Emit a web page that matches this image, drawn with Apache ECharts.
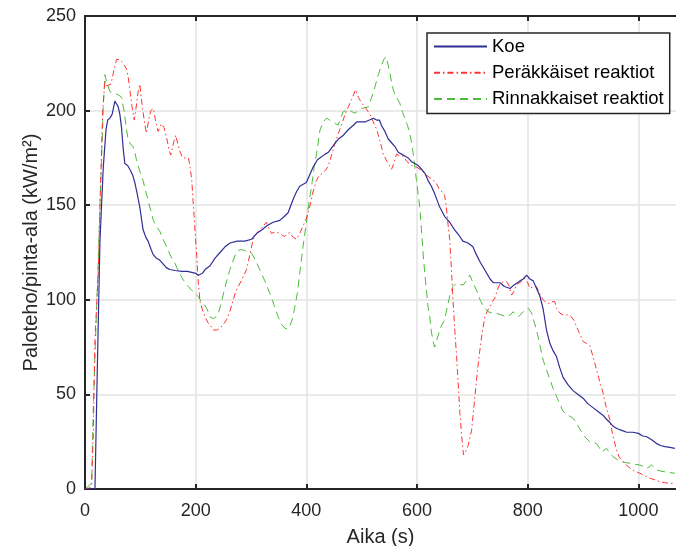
<!DOCTYPE html>
<html>
<head>
<meta charset="utf-8">
<script src="https://cdn.jsdelivr.net/npm/echarts@6/dist/echarts.min.js"></script>
<style>
html,body{margin:0;padding:0;background:#fff;}
#c{width:676px;height:546px;}
</style>
</head>
<body>
<div id="c"></div>
<script>
var seriesNames = ['Koe', 'Peräkkäiset reaktiot', 'Rinnakkaiset reaktiot'];
var xTicks = [0, 200, 400, 600, 800, 1000];
var yTicks = [0, 50, 100, 150, 200, 250];

var koe = [[0,0],[10,0],[18,0],[22,60],[27,131],[33,170],[38,190],[41,195],[45,196],[49,198],[54,205],[57,204],[60,202],[63,198],[66,191],[69,180],[72,172],[77,171],[81,169],[86,166],[90,162],[95,155],[99,149],[105,137],[110,133],[114,131],[119,127],[123,124],[129,122],[135,121],[141,119],[147,117],[153,116],[163,115.5],[175,115],[185,115],[193,114.5],[200,114],[205,113],[212,114],[217,116],[226,118],[235,122],[244,125],[253,128],[262,130],[275,131],[289,131],[301,132],[310,135],[320,137],[328,139],[340,141],[352,142],[360,144],[367,146],[376,153],[382,157],[388,160],[400,162],[406,166],[412,170],[420,174],[434,177],[440,178],[450,182],[458,185],[467,187],[476,190],[484,192],[491,194],[500,194],[506,194],[514,195],[521,196],[527,195],[532,195],[536,192],[542,189],[548,185],[554,183],[560,181],[566,178],[572,177],[578,176],[584,175],[590,173],[596,172],[602,171],[608,169],[614,167],[620,163],[626,160],[632,156],[641,149],[650,144],[659,141],[668,137],[676,134],[683,131],[692,130],[701,128],[707,124],[714,120],[722,116],[732,111],[738,109],[744,109],[750,109],[758,107],[768,106],[776,108],[786,110],[792,111],[798,113],[804,111],[810,110],[816,106],[822,102],[828,95],[834,84],[840,77],[846,73],[852,70],[858,64],[864,59],[873,55],[882,52],[891,50],[900,48],[909,45],[918,43],[927,41],[936,39],[942,37],[949,35],[955,33],[961,32],[970,31],[979,30],[990,30],[1000,29.4],[1008,28],[1015,27.6],[1024,26],[1033,24],[1040,23],[1048,22.4],[1057,22],[1066,21.5]];

var perakkaiset = [[0,0],[8,0.5],[12,2],[15,30],[18,79],[24,114],[28,160],[32,200],[36,216],[39,213],[42,213.5],[47,214],[52,221],[57,227],[62,227],[66,226],[71,224],[75,222],[78,218],[81,211],[85,202],[89,195],[93,203],[96,210],[99,214],[104,201],[108,193],[111,188],[115,195],[119,200],[123.5,201],[128,194],[132,189],[138,193],[143,191],[148,185],[152,179],[155,176.5],[160,183],[164,187],[168,182],[172,178],[176.5,175],[182,175],[187,175],[190,170],[193,163],[198,140],[202,123],[205,108],[208,99],[213,94],[217,91],[222,88],[226,86.5],[232,84],[238,84],[244,85],[250,87],[256,89.5],[262,94],[268,100],[272,104],[277,107],[284,111],[292,116],[298,124],[304,132],[310,135],[316,137],[322,139],[328,141],[332,138],[337,135],[344,136],[352,135],[357,134],[361,133.5],[366,135],[370,135.5],[376,133],[382,132],[388,135],[394,139],[400,143],[406,149],[412,157],[418,163],[424,166],[430,167],[436,169],[440,171],[446,177],[452,183],[458,188],[464,193],[470,198],[476,202],[482,206],[489,211],[494,207],[500,204],[508,201],[515,198],[521,194],[527,190],[533,184],[539,177],[546,173],[554,169],[558,172],[563,177],[569,176],[575,176],[582,173],[590,171],[600,170],[608,168.5],[616,166],[626,164],[634,162],[641,158],[646,157],[650,155],[653,149],[656,140],[659,132],[662,117],[665,100],[668,85],[671.5,70],[675,53],[677.5,40],[681,27],[684,18],[688,20],[692.5,23],[698.6,31],[701,38],[704.6,49],[709,62],[713.6,73.5],[718,83],[722.6,91],[727,94],[731.7,96.5],[736,99],[740.7,101],[745,105],[750,108.7],[756,109.5],[762,109.6],[767,107],[771,102.5],[776,105],[780,108],[788,109.5],[795,111.4],[800,109],[804,106],[810,107],[816,107],[822,103],[828,100],[833,98.5],[837,98],[843,99],[849,99],[852,95.5],[858,93],[864,92],[872,92],[879,91],[884,89],[888,86],[894,82],[900,78],[906,77],[912,76],[918,70],[924.5,63],[930,57],[936,51],[942,43],[948.5,36.5],[954,28],[960.6,20.6],[965,17],[970,15.3],[977,13],[985,11],[993,9.5],[1003,8.3],[1012,7],[1021,5.7],[1030,4.8],[1039,3.9],[1048,3.3],[1057,3],[1066,3]];

var rinnakkaiset = [[0,0],[3,1],[8,2],[12,3],[15,43],[18,70],[21,96],[24,122],[27,149],[30,175],[33,202],[36,219],[39,215],[42,212.6],[45,210],[48,209],[52,209],[57,208.7],[62,208],[66,207],[71,199],[75,190],[78,184.5],[83,182],[87,181],[90,178],[93,174],[99,168],[105,163],[110,157],[114,152.7],[119,147],[123.5,142],[129,139],[135.5,136],[141,132],[147.6,128],[155,123],[162.6,119.3],[169,115],[174.7,112],[181,109],[186.7,107],[193,105],[198.7,103.4],[205,101.6],[210,99],[214,98],[220,95.5],[226,91],[232,90],[237,91],[241,93],[246,98],[250,103],[256,110],[262,116],[268,121],[274,125.4],[280,126.5],[286,126.3],[294,125.5],[301,124.6],[308,121],[316,115.8],[325,110],[334,103.4],[342,97],[349,91],[355,87],[361,85],[366,84.5],[370,86],[375,90],[379,96],[384,104],[388,114],[394,128],[400.5,142],[405,152],[409.5,160],[414,170],[418.6,177.4],[424.6,189.7],[430.5,194],[436.6,196],[442,195],[448.6,194],[453,193],[457.6,192.4],[462,196],[466.7,199.4],[470,200],[475.7,200.3],[482,199.5],[487.8,198.6],[494,200],[500,201.2],[506,201.5],[512,202],[518,207],[524,212.6],[530,219],[536,224],[540,227],[544,228.5],[548,224],[551,219.7],[554,215],[557,211],[563,207],[569,203.8],[574,199],[578,196],[583,192],[587,188],[590,183],[593,177.4],[596,170],[599,163],[602,156],[605,149],[608,137],[611,124.6],[614,114],[617,105.2],[620,96],[623,91],[626,83],[629,78],[632,75],[636,79],[641,84],[645,87],[650,89.3],[653,94],[656,98],[660,103],[665,107],[670,108.5],[674.5,108.7],[679,108],[683.5,107.8],[689,110],[695.6,113],[701,109],[707.6,105],[714,100],[719.7,96.5],[728.6,93.7],[736,93],[743.8,92.9],[752,92],[762,91],[768,92],[774,93.7],[778,92],[783,91],[788,92.5],[792,93.7],[797,94.5],[801,95.5],[807,93],[812,88],[816,84],[822,76],[828,68],[834,63],[840,58],[846,53],[852,49],[858,45],[864,41],[873,39],[882,37.4],[890,34],[897,30.3],[905,27],[912,25],[918,24.5],[924.5,24],[929,22],[933.5,19.7],[938,20.5],[942.6,21.5],[948,19],[954.5,17],[962,15.5],[969.6,14.4],[977,14],[984.6,13.6],[994,13],[1002.7,12.7],[1008,12],[1014.8,10.9],[1019,11.5],[1023.8,12.7],[1028,11.5],[1033,10],[1040,9.5],[1048,9.1],[1057,8.7],[1066,8.3]];

var FONT = '"Liberation Sans", Arial, sans-serif';
var AX = '#262626';
var chart = echarts.init(document.getElementById('c'), null, {renderer: 'canvas'});

var baseX = {
  type: 'value', min: 0, max: 1068, interval: 200,
  axisLine: {show: true, onZero: false, lineStyle: {color: AX, width: 2}},
  axisTick: {show: true, inside: true, length: 5, customValues: xTicks, lineStyle: {color: AX, width: 2}},
  splitLine: {show: false}
};

chart.setOption({
  animation: false,
  textStyle: {fontFamily: FONT},
  grid: {left: 85, right: 0, top: 16, bottom: 57, containLabel: false, outerBoundsMode: 'none'},
  legend: {
    orient: 'vertical', left: 427, top: 33,
    padding: [4, 6, 5, 6], itemGap: 7.3, itemWidth: 53, itemHeight: 14,
    backgroundColor: '#fff', borderColor: AX, borderWidth: 1.5,
    itemStyle: {opacity: 0},
    textStyle: {fontFamily: FONT, fontSize: 18.5, lineHeight: 18, color: '#000'},
    data: seriesNames
  },
  xAxis: [
    Object.assign({}, baseX, {
      position: 'bottom',
      name: 'Aika (s)', nameLocation: 'middle', nameGap: 38, nameMoveOverlap: false,
      nameTextStyle: {fontFamily: FONT, fontSize: 20, color: AX},
      axisLabel: {show: true, fontFamily: FONT, fontSize: 18, color: AX, margin: 13, customValues: xTicks,
        formatter: function (v) { return String(v); }},
      splitLine: {show: true, lineStyle: {color: '#e3e3e3', width: 1.5}}
    }),
    Object.assign({}, baseX, {position: 'top', axisLabel: {show: false}})
  ],
  yAxis: [{
    type: 'value', min: 0, max: 250, interval: 50,
    name: 'Paloteho/pinta-ala (kW/m²)', nameLocation: 'middle', nameGap: 44, nameMoveOverlap: false,
    nameTextStyle: {fontFamily: FONT, fontSize: 20, color: AX},
    axisLine: {show: true, lineStyle: {color: AX, width: 2}},
    axisTick: {show: true, inside: true, length: 5, lineStyle: {color: AX, width: 2}},
    axisLabel: {fontFamily: FONT, fontSize: 18, color: AX, margin: 9,
      formatter: function (v) { return String(v); }},
    splitLine: {show: true, lineStyle: {color: '#e3e3e3', width: 1.5}}
  }],
  series: [
    {name: seriesNames[0], type: 'line', data: koe, symbol: 'none', z: 5,
      lineStyle: {color: '#2e2e96', width: 1.2}, itemStyle: {color: '#2e2e96'}},
    {name: seriesNames[1], type: 'line', data: perakkaiset, symbol: 'none', z: 4,
      lineStyle: {color: '#ff3333', width: 1, type: [6, 3, 1.5, 3]}, itemStyle: {color: '#ff3333'}},
    {name: seriesNames[2], type: 'line', data: rinnakkaiset, symbol: 'none', z: 3,
      lineStyle: {color: '#4dbb3c', width: 1, type: [8, 5]}, itemStyle: {color: '#4dbb3c'}}
  ]
});
</script>
</body>
</html>
